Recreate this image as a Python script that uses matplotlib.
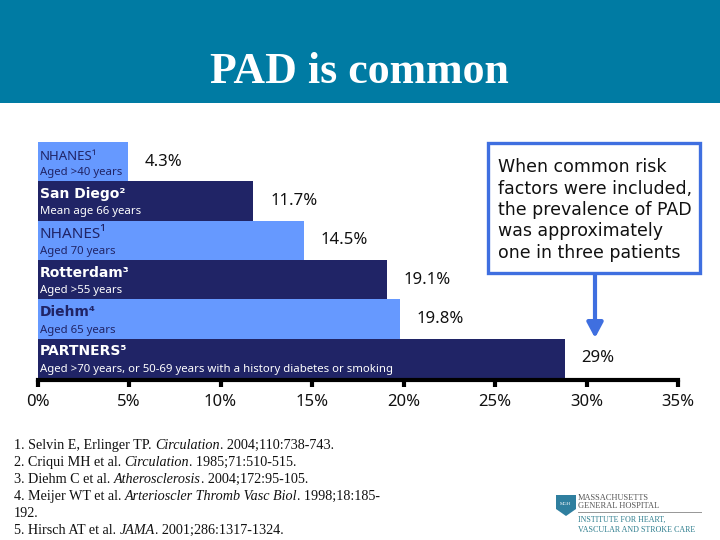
#!/usr/bin/env python
import matplotlib
matplotlib.use('Agg')
import matplotlib.pyplot as plt
from matplotlib.patches import Polygon, Rectangle

W, H = 720, 540

# data
studies = ['NHANES¹', 'San Diego²', 'NHANES¹', 'Rotterdam³', 'Diehm⁴', 'PARTNERS⁵']
ages = ['Aged >40 years', 'Mean age 66 years', 'Aged 70 years', 'Aged >55 years', 'Aged 65 years',
        'Aged >70 years, or 50-69 years with a history diabetes or smoking']
bar_widths = [4.95, 11.8, 14.55, 19.1, 19.8, 28.8]
value_labels = ['4.3%', '11.7%', '14.5%', '19.1%', '19.8%', '29%']
tick_values = [0, 5, 10, 15, 20, 25, 30, 35]
tick_labels = ['0%', '5%', '10%', '15%', '20%', '25%', '30%', '35%']
callout = ('When common risk\nfactors were included,\nthe prevalence of PAD\n'
           'was approximately\none in three patients')
refs = [
    [('1. Selvin E, Erlinger TP. ', 0), ('Circulation', 1), ('. 2004;110:738-743.', 0)],
    [('2. Criqui MH et al. ', 0), ('Circulation', 1), ('. 1985;71:510-515.', 0)],
    [('3. Diehm C et al. ', 0), ('Atherosclerosis', 1), ('. 2004;172:95-105.', 0)],
    [('4. Meijer WT et al. ', 0), ('Arterioscler Thromb Vasc Biol', 1), ('. 1998;18:185-', 0)],
    [('192.', 0)],
    [('5. Hirsch AT et al. ', 0), ('JAMA', 1), ('. 2001;286:1317-1324.', 0)],
]

light = '#6699ff'
dark = '#202466'
teal = '#007ba3'
blue = '#3f6fe0'
sans = 'Noto Sans'
wide = 'DejaVu Sans'
serif = 'Liberation Serif'


def fx(px):
    return px / W


def fy(py):
    return 1 - py / H


fig = plt.figure(figsize=(W / 100, H / 100), dpi=100, facecolor='white')

# header band and title
fig.add_artist(Rectangle((0, fy(103)), 1, 103 / H, transform=fig.transFigure, color=teal, lw=0))
fig.text(fx(359), fy(83), 'PAD is common', family=serif, weight='bold', size=31.6, color='white',
         ha='center', va='baseline')

# chart
ax = fig.add_axes([fx(37.5), fy(378), fx(678 - 37.5), (378 - 142) / H])
ax.patch.set_alpha(0)
rows = list(range(len(bar_widths)))
colors = [light, dark, light, dark, light, dark]
ax.barh(rows, bar_widths, height=1, color=colors, lw=0)
ax.set_xlim(0, 35)
ax.set_ylim(len(rows) - 0.5, -0.5)

for s in ['top', 'left', 'right']:
    ax.spines[s].set_visible(False)
ax.spines['bottom'].set_position(('outward', 1.5))
ax.spines['bottom'].set_linewidth(3)
ax.set_yticks([])
ax.set_xticks(tick_values)
ax.set_xticklabels(tick_labels, family=sans, size=12, color='#111111')
ax.tick_params(axis='x', length=5, width=3, pad=5)

name_fonts = [sans, wide, sans, wide, wide, wide]
name_sizes = [9.5, 10, 11, 10, 10, 10]
name_weights = ['normal', 'bold', 'normal', 'bold', 'bold', 'bold']
name_raise = [5, 7, 6, 7, 7, 7]
text_colors = [dark, 'white', dark, 'white', dark, 'white']
for i in rows:
    ax.annotate(studies[i], xy=(0, i), xytext=(2, name_raise[i]), xycoords='data',
                textcoords='offset pixels', family=name_fonts[i], size=name_sizes[i],
                weight=name_weights[i], color=text_colors[i], va='center', ha='left')
    ax.annotate(ages[i], xy=(0, i), xytext=(2, -11), xycoords='data', textcoords='offset pixels',
                family=sans, size=8.2, color=text_colors[i], va='center', ha='left')
    ax.annotate(value_labels[i], xy=(bar_widths[i], i), xytext=(17, 0), xycoords='data',
                textcoords='offset pixels', family=sans, size=12, color='#111111',
                va='center', ha='left')

# callout box and arrow
fig.add_artist(Rectangle((fx(487.5), fy(273)), fx(212), 130 / H, transform=fig.transFigure,
                         fc='white', ec=blue, lw=2.4))
fig.text(fx(498), fy(210), callout, family=wide, size=12.5, color='#111111', ha='left', va='center',
         linespacing=1.245)
ax.annotate('', xy=(595, H - 338), xytext=(595, H - 275), xycoords='figure pixels',
            textcoords='figure pixels',
            arrowprops=dict(arrowstyle='-|>,head_width=0.48,head_length=0.9', color=blue, lw=3,
                            shrinkA=0, shrinkB=0))

# references, each line chained from its own segments
for n, segs in enumerate(refs):
    y = fy(449 + n * 16.9)
    prev = None
    for txt, ital in segs:
        style = 'italic' if ital else 'normal'
        if prev is None:
            prev = fig.text(fx(14), y, txt, family=serif, size=10.2, style=style, color='#111111')
        else:
            prev = ax.annotate(txt, xy=(1, 0), xycoords=prev, va='bottom', ha='left',
                               family=serif, size=10.2, style=style, color='#111111')

# logo
fig.add_artist(Polygon([(fx(556), fy(495)), (fx(576), fy(495)), (fx(576), fy(509)), (fx(566), fy(516)),
                        (fx(556), fy(509))], transform=fig.transFigure, color='#2f7f9f', lw=0))
fig.text(fx(566), fy(504), 'MGH', family=serif, size=3.5, color='white', ha='center', va='center')
fig.text(fx(578), fy(498), 'MASSACHUSETTS', family=serif, size=6, color='#555555', va='center')
fig.text(fx(578), fy(506), 'GENERAL HOSPITAL', family=serif, size=6, color='#555555', va='center')
fig.add_artist(Rectangle((fx(578), fy(512.5)), fx(124), 1 / H, transform=fig.transFigure,
                         color='#999999', lw=0))
fig.text(fx(578), fy(520), 'INSTITUTE FOR HEART,', family=serif, size=5.8, color='#2f7f8f', va='center')
fig.text(fx(578), fy(530), 'VASCULAR AND STROKE CARE', family=serif, size=5.8, color='#2f7f8f', va='center')

plt.savefig('out.png', dpi=100)
